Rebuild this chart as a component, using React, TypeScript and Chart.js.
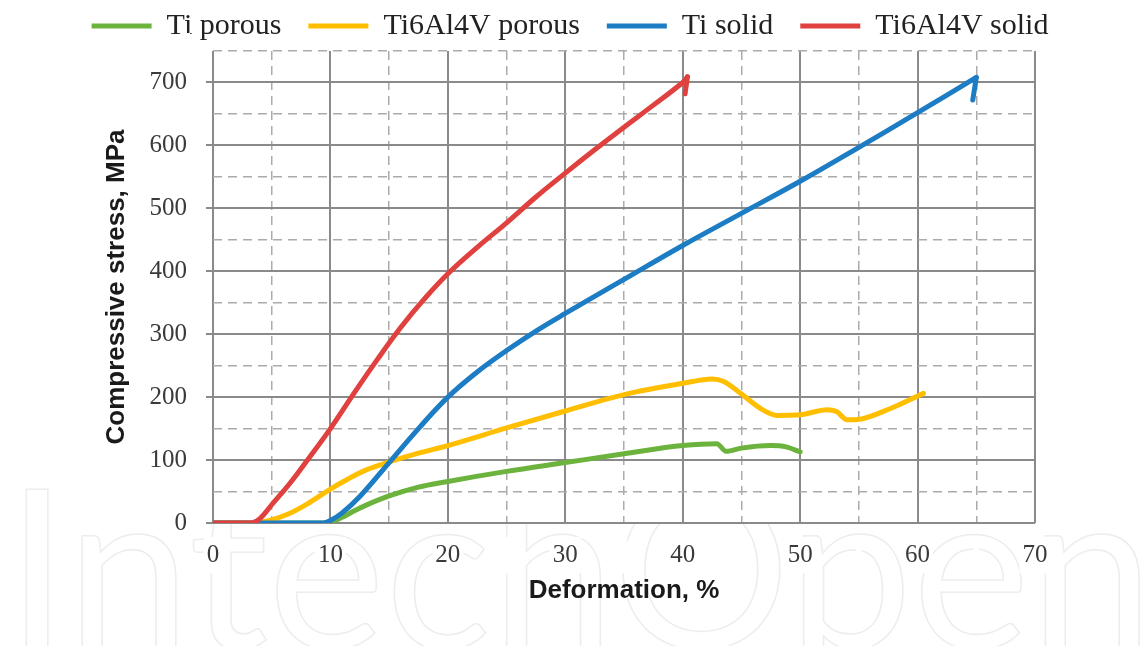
import React, { useEffect, useRef } from 'react';
import { Chart, registerables } from 'chart.js';

Chart.register(...registerables);

// ---- Data ----
const seriesNames = ['Ti porous', 'Ti6Al4V porous', 'Ti solid', 'Ti6Al4V solid'];
const seriesColors = ['#6cb33e', '#ffbf00', '#1c7cc4', '#e0413f'];

const tiPorousX = [0, 9.7, 11, 12, 13, 15, 17.5, 20, 25, 30, 35, 40, 42.9, 43.7, 45, 47.5, 48.8, 50];
const tiPorousY = [0, 0, 9, 19, 28, 43, 57, 66, 82, 96, 110, 123, 126, 114, 119, 123, 121, 113];

const ti64PorousX = [0, 3.5, 5, 6.5, 8, 10, 11.5, 13, 15, 17.5, 20, 25, 30, 35, 40, 42.5, 43.5, 45, 46.7, 48, 50, 52.3, 53.1, 54, 55.1, 57.7, 60.5];
const ti64PorousY = [0, 0, 5, 15, 30, 54, 70, 84, 97, 111, 123, 151, 178, 204, 222, 229, 225, 205, 181, 171, 172, 180, 177, 164, 165, 182, 206];

const tiSolidX = [0, 9.4, 10, 11, 12.5, 15, 17.5, 20, 22.5, 25, 27.5, 30, 35, 40, 45, 50, 55, 60, 65];
const tiSolidY = [0, 0, 4, 16, 42, 96, 150, 200, 240, 274, 305, 333, 387, 441, 492, 543, 597, 652, 708];
// small drop at the end of the Ti solid curve
const tiSolidEndX = [65, 64.7];
const tiSolidEndY = [708, 672];

const ti64SolidX = [0, 3.3, 4, 5, 6.5, 8, 10, 12, 14, 16, 18, 20, 22.5, 25, 27.5, 30, 32.5, 35, 37.5, 40, 40.4];
const ti64SolidY = [0, 0, 7, 29, 62, 99, 150, 206, 260, 311, 356, 396, 438, 477, 518, 556, 593, 629, 664, 700, 709];
// small drop at the end of the Ti6Al4V solid curve
const ti64SolidEndX = [40.4, 40.2];
const ti64SolidEndY = [709, 682];

const xTickLabels = ['0', '10', '20', '30', '40', '50', '60', '70'];
const yTickLabels = ['0', '100', '200', '300', '400', '500', '600', '700'];

const xTitle = 'Deformation, %';
const yTitle = 'Compressive stress, MPa';
const watermarkText = 'IntechOpen';

const seriesX = [tiPorousX, ti64PorousX, tiSolidX, ti64SolidX];
const seriesY = [tiPorousY, ti64PorousY, tiSolidY, ti64SolidY];
const drawOrder = [3, 2, 1, 0];
const useMonotone = [true, true, false, false];

const watermark = {
  id: 'watermark',
  beforeDraw(chart: any) {
    const c = chart.ctx;
    const a = chart.chartArea;
    c.save();
    c.font = '200px Lato, "Open Sans", sans-serif';
    const w = c.measureText(watermarkText).width;
    const size = Math.round(200 * 1150 / w);
    c.font = `${size}px Lato, "Open Sans", sans-serif`;
    c.strokeStyle = '#ededed';
    c.lineWidth = 1.5;
    c.textBaseline = 'alphabetic';
    c.strokeText(watermarkText, 6, 648);
    c.fillStyle = '#ffffff';
    c.fillRect(a.left, a.top, a.right - a.left, a.bottom - a.top);
    c.restore();
  },
};

export default function App() {
  const ref = useRef<HTMLCanvasElement>(null);

  useEffect(() => {
    const canvas = ref.current;
    if (!canvas) return;

    const isMajor = (v: number, step: number) => Math.abs(v % step) < 1e-9;
    const gridColor = (step: number) => (ctx: any) =>
      ctx.tick && isMajor(ctx.tick.value, step) ? '#8a8a8a' : '#ababab';
    const gridWidth = (step: number) => (ctx: any) =>
      ctx.tick && isMajor(ctx.tick.value, step) ? 2 : 1.5;
    const gridDash = (step: number) => (ctx: any) =>
      ctx.tick && !isMajor(ctx.tick.value, step) ? [9, 6] : [];

    const lineStyle = (color: string, order: number, monotone: boolean, tension: number) => ({
      borderColor: color,
      backgroundColor: color,
      borderWidth: 5,
      pointRadius: 0,
      pointHoverRadius: 0,
      cubicInterpolationMode: monotone ? ('monotone' as const) : ('default' as const),
      tension,
      fill: false,
      borderJoinStyle: 'round' as const,
      borderCapStyle: 'round' as const,
      order,
    });

    const datasets: any[] = seriesNames.map((name, i) => ({
      label: name,
      data: seriesX[i].map((x, j) => ({ x, y: seriesY[i][j] })),
      ...lineStyle(seriesColors[i], drawOrder[i], useMonotone[i], 0.4),
    }));
    datasets.push({
      label: seriesNames[2],
      data: tiSolidEndX.map((x, j) => ({ x, y: tiSolidEndY[j] })),
      ...lineStyle(seriesColors[2], drawOrder[2], false, 0),
    });
    datasets.push({
      label: seriesNames[3],
      data: ti64SolidEndX.map((x, j) => ({ x, y: ti64SolidEndY[j] })),
      ...lineStyle(seriesColors[3], drawOrder[3], false, 0),
    });

    const tickFont = { family: '"Liberation Serif", "DejaVu Serif", serif', size: 25 };
    const titleFont = { family: '"Liberation Sans", Arial, sans-serif', size: 26, weight: 'bold' as const };

    const chart = new Chart(canvas, {
      type: 'line',
      data: { datasets },
      options: {
        responsive: false,
        animation: false,
        devicePixelRatio: 1,
        layout: { padding: { left: 0, right: 0, top: -16, bottom: 40 } },
        plugins: {
          legend: {
            display: true,
            position: 'top',
            labels: {
              font: { family: '"Liberation Serif", "DejaVu Serif", serif', size: 30 },
              color: '#222222',
              boxWidth: 60,
              boxHeight: 5,
              padding: 27,
              filter: (item: any) => item.datasetIndex < seriesNames.length,
              sort: (a: any, b: any) => a.datasetIndex - b.datasetIndex,
              generateLabels: (ch: any) =>
                (Chart.defaults.plugins.legend.labels as any)
                  .generateLabels(ch)
                  .map((l: any) => ({ ...l, lineWidth: 0 })),
            },
          },
          tooltip: { enabled: false },
        },
        scales: {
          x: {
            type: 'linear',
            min: 0,
            max: 70,
            afterFit: (s: any) => { s.height = 83; },
            ticks: {
              stepSize: 5,
              autoSkip: false,
              maxRotation: 0,
              padding: 17,
              color: '#3a3a3a',
              font: tickFont,
              showLabelBackdrop: true,
              backdropColor: '#ffffff',
              backdropPadding: 3,
              callback: (v: any) => {
                const idx = xTickLabels.indexOf(String(v));
                return isMajor(Number(v), 10) && idx >= 0 ? xTickLabels[idx] : '';
              },
            },
            grid: {
              color: gridColor(10),
              lineWidth: gridWidth(10),
              drawTicks: false,
            },
            border: { display: false, dash: gridDash(10) },
            title: {
              display: true,
              text: xTitle,
              color: '#1a1a1a',
              font: titleFont,
              padding: { top: 0, bottom: 0 },
            },
          },
          y: {
            type: 'linear',
            position: 'left',
            min: 0,
            max: 750,
            afterFit: (s: any) => { s.width = 213; },
            ticks: {
              stepSize: 50,
              autoSkip: false,
              padding: 19,
              color: '#3a3a3a',
              font: tickFont,
              showLabelBackdrop: true,
              backdropColor: '#ffffff',
              backdropPadding: 3,
              callback: (v: any) => {
                const idx = yTickLabels.indexOf(String(v));
                return isMajor(Number(v), 100) && idx >= 0 ? yTickLabels[idx] : '';
              },
            },
            grid: {
              color: gridColor(100),
              lineWidth: gridWidth(100),
              tickLength: 7,
              tickColor: (ctx: any) => (ctx.tick && isMajor(ctx.tick.value, 100) ? '#8a8a8a' : 'rgba(0,0,0,0)'),
            },
            border: { display: false, dash: gridDash(100) },
            title: {
              display: true,
              text: yTitle,
              color: '#1a1a1a',
              font: titleFont,
              padding: { top: 101, bottom: 0 },
            },
          },
          rightSpace: {
            type: 'linear',
            position: 'right',
            min: 0,
            max: 1,
            afterFit: (s: any) => { s.width = 105; },
            ticks: { display: false },
            grid: { display: false, drawOnChartArea: false, drawTicks: false },
            border: { display: false },
            title: { display: false },
          },
        },
      },
      plugins: [watermark],
    } as any);

    return () => chart.destroy();
  }, []);

  return (
    <div style={{ position: 'absolute', left: 0, top: 0, width: 1140, height: 646, background: '#ffffff' }}>
      <canvas ref={ref} width={1140} height={646} style={{ display: 'block', width: 1140, height: 646 }} />
    </div>
  );
}
